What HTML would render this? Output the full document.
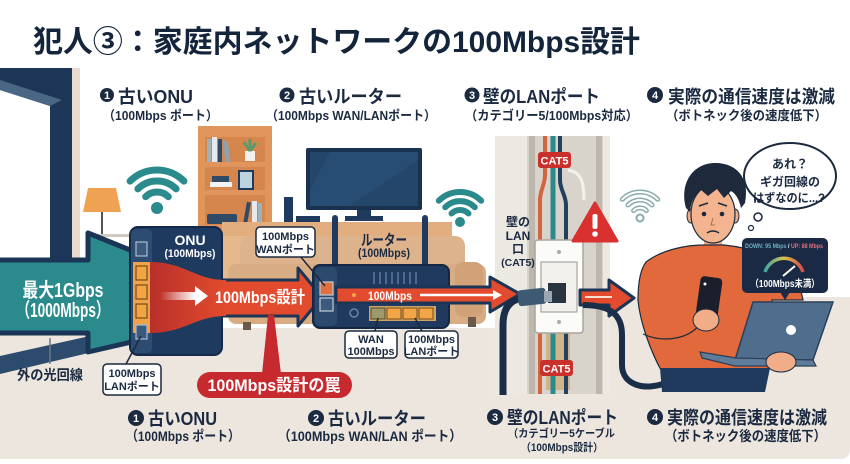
<!DOCTYPE html>
<html><head><meta charset="utf-8">
<style>
html,body{margin:0;padding:0;background:#fff;}
svg{display:block;}
text{font-family:"Liberation Sans","Noto Sans CJK JP",sans-serif;font-weight:700;}
</style></head><body>
<svg width="850" height="464" viewBox="0 0 850 464" xmlns="http://www.w3.org/2000/svg">
<defs>
<linearGradient id="fun" x1="0" x2="1" y1="0" y2="0">
<stop offset="0" stop-color="#b8302a"/><stop offset="1" stop-color="#e24b2d"/>
</linearGradient>
<linearGradient id="wfade" x1="0" x2="1"><stop offset="0" stop-color="#fff" stop-opacity="0"/><stop offset="1" stop-color="#fff"/></linearGradient>
<linearGradient id="gauge" x1="0" x2="1"><stop offset="0" stop-color="#3fa7a0"/><stop offset="0.5" stop-color="#d8c04a"/><stop offset="1" stop-color="#d84a4a"/></linearGradient>
</defs>
<rect width="850" height="464" fill="#fff"/>

<!-- floor -->
<path d="M0,328 L610,328 L610,297 L850,297 L850,449 Q850,459 840,459 L0,459 Z" fill="#ece6df"/>

<!-- door frame -->
<polygon points="0,68 72,68 72,262 50,262 50,106 0,90" fill="#1d3557"/>
<polygon points="0,80 62,100 50,106 0,90" fill="#4a6685"/>
<rect x="72" y="68" width="8" height="192" fill="#eadbd0"/>

<!-- lamp -->
<polygon points="88,188 116,188 121,212 83,212" fill="#f0a253"/>
<line x1="102" y1="212" x2="102" y2="236" stroke="#555" stroke-width="2"/>
<rect x="94" y="234" width="40" height="3" fill="#cfcac4"/>

<!-- bookshelf -->
<rect x="198" y="126" width="74" height="104" fill="#e0955c"/>
<rect x="205" y="137" width="60" height="25" fill="#d4864c"/>
<rect x="205" y="167" width="60" height="23" fill="#d4864c"/>
<rect x="205" y="195" width="60" height="30" fill="#d4864c"/>
<rect x="207" y="139" width="4" height="23" fill="#9fb0bd"/>
<rect x="212" y="137" width="5" height="25" fill="#e6e8ea"/>
<rect x="218" y="139" width="4" height="23" fill="#2f4a66"/>
<rect x="224" y="141" width="5" height="21" fill="#8fa0ae" transform="rotate(-8 226 151)"/>
<rect x="245" y="151" width="10" height="10" fill="#f4f1ec"/>
<path d="M250,151 L244,142 M250,151 L250,139 M250,151 L256,143" stroke="#5c9a6c" stroke-width="3"/>
<rect x="210" y="182" width="22" height="5" fill="#f3f3f3"/>
<rect x="212" y="176" width="17" height="6" fill="#2f4a66"/>
<rect x="239" y="171" width="14" height="18" fill="#bcd4e0" stroke="#1f3a5c" stroke-width="2"/>
<rect x="207" y="214" width="30" height="10" rx="2" fill="#2f4a66"/>
<rect x="245" y="202" width="4" height="22" fill="#2f4a66" transform="rotate(10 247 213)"/>
<rect x="252" y="201" width="5" height="23" fill="#e6e8ea"/>
<rect x="258" y="203" width="4" height="21" fill="#9fb0bd"/>

<!-- cabinet -->
<rect x="222" y="222" width="230" height="14" fill="#e2ae80"/>
<rect x="222" y="236" width="40" height="50" fill="#e6b98c"/>

<!-- TV -->
<rect x="357" y="209" width="14" height="9" fill="#1f3a5c"/>
<rect x="345" y="216" width="38" height="5" fill="#1f3a5c"/>
<rect x="306" y="148" width="116" height="62" rx="2" fill="#1a3150"/>
<rect x="310" y="152" width="108" height="54" fill="#24466b"/>
<polygon points="330,152 418,152 418,160 350,206 310,206 310,190" fill="#2b5077" opacity="0.7"/>
<rect x="284" y="197" width="9" height="25" fill="#1f3a5c"/>
<rect x="296" y="216" width="24" height="6" fill="#1f3a5c"/>

<!-- sofa -->
<rect x="240" y="236" width="225" height="40" rx="10" fill="#dcb38c"/>
<rect x="228" y="264" width="258" height="60" rx="8" fill="#d9ad84"/>
<rect x="455" y="262" width="28" height="55" rx="8" fill="#d1a278"/>
<rect x="243" y="322" width="8" height="8" fill="#6b5a4a"/>
<rect x="468" y="317" width="8" height="10" fill="#6b5a4a"/>

<!-- wifi 1 -->
<g fill="none" stroke="#2a8a8c" stroke-width="7" stroke-linecap="round">
<path d="M145.7,196.7 A16,16 0 0 1 168.3,196.7"/>
<path d="M137.9,188.9 A27,27 0 0 1 176.1,188.9"/>
<path d="M130.1,181.1 A38,38 0 0 1 183.9,181.1"/>
</g>
<circle cx="157" cy="208" r="6" fill="#2a8a8c"/>
<!-- wifi 2 -->
<g fill="none" stroke="#2a8a8c" stroke-width="6" stroke-linecap="round">
<path d="M451.5,213.5 A12,12 0 0 1 468.5,213.5"/>
<path d="M445.2,207.2 A21,21 0 0 1 474.8,207.2"/>
<path d="M438.8,200.8 A30,30 0 0 1 481.2,200.8"/>
</g>
<circle cx="460" cy="222" r="5" fill="#2a8a8c"/>
<!-- wifi 3 -->
<g fill="none" stroke-linecap="round">
<g stroke="#8aacac" stroke-width="5">
<path d="M633.6,210.6 A9,9 0 0 1 646.4,210.6"/>
<path d="M628,205 A17,17 0 0 1 652,205"/>
<path d="M622.3,199.3 A25,25 0 0 1 657.7,199.3"/>
</g>
<g stroke="#fff" stroke-width="2">
<path d="M633.6,210.6 A9,9 0 0 1 646.4,210.6"/>
<path d="M628,205 A17,17 0 0 1 652,205"/>
<path d="M622.3,199.3 A25,25 0 0 1 657.7,199.3"/>
</g>
</g>
<circle cx="640" cy="218" r="3.5" fill="#fff" stroke="#8aacac" stroke-width="2"/>

<!-- wall panel -->
<rect x="495" y="136" width="115" height="258" fill="#ece8e2"/>
<rect x="527" y="136" width="76" height="258" fill="#d8d3cb"/>
<rect x="529" y="136" width="6" height="258" fill="#bdb7ae"/>
<rect x="596" y="136" width="6" height="258" fill="#bdb7ae"/>
<rect x="546" y="318" width="24" height="72" fill="#d2b48c"/>
<path d="M545,136 L545,175 C545,185 540,190 540,200 L540,394" stroke="#d0653f" stroke-width="4" fill="none"/>
<path d="M553,136 L553,394" stroke="#2a8a8c" stroke-width="5" fill="none"/>
<path d="M560,136 L560,180 C560,190 566,195 566,205 L566,394" stroke="#23405f" stroke-width="4" fill="none"/>
<path d="M568,170 C580,172 584,180 584,200" stroke="#f4f1ec" stroke-width="3" fill="none"/>
<rect x="538" y="152" width="33" height="16" rx="3" fill="#c9302c"/>
<text x="554.5" y="164.5" font-size="11" fill="#fff" text-anchor="middle">CAT5</text>
<rect x="540" y="360" width="33" height="16" rx="3" fill="#c9302c"/>
<text x="556.5" y="372.5" font-size="11" fill="#fff" text-anchor="middle">CAT5</text>
<rect x="535" y="240" width="48" height="93" rx="3" fill="#fbfbfa" stroke="#aaa49c" stroke-width="1.5"/>
<rect x="541" y="262" width="36" height="50" fill="#f2f0ec" stroke="#9a958e" stroke-width="1"/>
<rect x="548" y="283" width="18" height="20" fill="#2a3440"/>
<circle cx="559" cy="252" r="2" fill="#aaa"/>
<circle cx="559" cy="322" r="2" fill="#aaa"/>
<path d="M595,203 L617,241 L573,241 Z" fill="#d93030" stroke="#d93030" stroke-width="3" stroke-linejoin="round"/>
<rect x="592.5" y="214" width="5" height="15" rx="2" fill="#fff"/>
<circle cx="595" cy="234" r="2.8" fill="#fff"/>
<text x="518" y="226" font-size="12" fill="#1b2a40" text-anchor="middle">壁の</text>
<text x="518" y="240" font-size="12" fill="#1b2a40" text-anchor="middle">LAN</text>
<text x="518" y="253" font-size="12" fill="#1b2a40" text-anchor="middle">口</text>
<text x="518" y="266" font-size="10.5" fill="#1b2a40" text-anchor="middle">(CAT5)</text>

<!-- outside cable -->
<polygon points="0,356 135,326 135,342 0,374" fill="#2d4b6d"/>

<!-- teal arrow -->
<path d="M0,260 L88,260 L88,233 L140,254 L140,340 L88,352 L88,333 L0,333" fill="#2a8a8c" stroke="#1b3556" stroke-width="5" stroke-linejoin="round"/>
<text x="63" y="297" font-size="20" fill="#fff" text-anchor="middle" textLength="81" lengthAdjust="spacingAndGlyphs">最大1Gbps</text>
<text x="63" y="317" font-size="20" fill="#fff" text-anchor="middle" textLength="93" lengthAdjust="spacingAndGlyphs">（1000Mbps）</text>
<line x1="50" y1="338" x2="50" y2="364" stroke="#6b7a8a" stroke-width="1.5"/>
<text x="17" y="380" font-size="14" fill="#1b2a40" textLength="66" lengthAdjust="spacingAndGlyphs">外の光回線</text>

<!-- red arrow 1 -->
<path d="M215,280 L298,280 L298,268 L322,297 L298,326 L298,316 L215,316 Z" fill="#e24b2d" stroke="#1b3556" stroke-width="3" stroke-linejoin="round"/>

<!-- ONU -->
<rect x="130" y="227" width="92" height="128" rx="8" fill="#1e3a5f" stroke="#15294a" stroke-width="2"/>
<rect x="131" y="229" width="21" height="124" rx="5" fill="#2c4c72"/>
<path d="M150,262 C185,262 195,280 226,280 L226,316 C195,316 185,333 150,333 Z" fill="url(#fun)"/>
<rect x="133" y="262" width="17" height="71" fill="#f0a24a"/>
<g stroke-width="1.2">
<rect x="136" y="242" width="11" height="14" fill="#3b5a7e" stroke="#a9bccf"/>
<rect x="136" y="266" width="11" height="14" fill="#f2a545" stroke="#7a4a1a"/>
<rect x="136" y="285" width="11" height="14" fill="#f2a545" stroke="#7a4a1a"/>
<rect x="136" y="304" width="11" height="14" fill="#f2a545" stroke="#7a4a1a"/>
<rect x="136" y="325" width="11" height="14" fill="#3b5a7e" stroke="#a9bccf"/>
</g>
<text x="190" y="245" font-size="14" fill="#fff" text-anchor="middle">ONU</text>
<text x="190" y="257" font-size="11" fill="#fff" text-anchor="middle" textLength="51" lengthAdjust="spacingAndGlyphs">(100Mbps)</text>
<rect x="160" y="292" width="36" height="8" fill="url(#wfade)"/>
<polygon points="195,286 208,296 195,306" fill="#fff"/>
<text x="215" y="303" font-size="17" fill="#fff" textLength="90" lengthAdjust="spacingAndGlyphs">100Mbps設計</text>

<!-- router -->
<rect x="332" y="215" width="6" height="55" rx="3" fill="#1f3a5e"/>
<rect x="422" y="215" width="6" height="55" rx="3" fill="#1f3a5e"/>
<rect x="313" y="265" width="136" height="63" rx="7" fill="#1f3a5e" stroke="#142844" stroke-width="2"/>
<rect x="315" y="267" width="22" height="59" rx="5" fill="#2b4a6e"/>
<g stroke="#4a6a8e" stroke-width="2">
<line x1="374" y1="272" x2="374" y2="284"/><line x1="380" y1="272" x2="380" y2="284"/><line x1="386" y1="272" x2="386" y2="284"/><line x1="392" y1="272" x2="392" y2="284"/><line x1="398" y1="272" x2="398" y2="284"/><line x1="404" y1="272" x2="404" y2="284"/><line x1="410" y1="272" x2="410" y2="284"/><line x1="416" y1="272" x2="416" y2="284"/>
</g>
<rect x="320" y="282" width="13" height="13" fill="#e07040" stroke="#c0ccd8" stroke-width="1.2"/>
<rect x="320" y="298" width="13" height="13" fill="#3b5a7e" stroke="#c0ccd8" stroke-width="1.2"/>
<rect x="369" y="306" width="67" height="15" fill="#cfa564"/>
<rect x="371" y="308" width="14" height="11" fill="#9a9a6a" stroke="#5a4a2a"/>
<rect x="387" y="308" width="14" height="11" fill="#f2a545" stroke="#7a4a1a"/>
<rect x="403" y="308" width="14" height="11" fill="#f2a545" stroke="#7a4a1a"/>
<rect x="419" y="308" width="14" height="11" fill="#f2a545" stroke="#7a4a1a"/>
<circle cx="354" cy="313" r="4" fill="none" stroke="#6a86a6" stroke-width="1.5"/>
<path d="M336,287 L490,287 L490,277 L520,294 L490,312 L490,303 L336,303 Z" fill="#e24b2d" stroke="#1b3556" stroke-width="3" stroke-linejoin="round"/>
<circle cx="354" cy="295" r="2" fill="#f2a545"/>
<text x="368" y="300" font-size="12" fill="#fff" textLength="44" lengthAdjust="spacingAndGlyphs">100Mbps</text>
<line x1="420" y1="295" x2="495" y2="295" stroke="#fff" stroke-width="2.5"/>
<polygon points="493,290 502,295 493,300" fill="#fff"/>
<text x="384" y="245" font-size="15" fill="#1b2a40" text-anchor="middle" textLength="46" lengthAdjust="spacingAndGlyphs">ルーター</text>
<text x="384" y="257" font-size="12" fill="#1b2a40" text-anchor="middle" textLength="52" lengthAdjust="spacingAndGlyphs">(100Mbps)</text>

<!-- right red arrow -->
<path d="M580,290 L609,290 L609,280 L634,298 L609,316 L609,305 L580,305 Z" fill="#e24b2d" stroke="#1b3556" stroke-width="3" stroke-linejoin="round"/>
<line x1="585" y1="297" x2="612" y2="297" stroke="#fbe0d0" stroke-width="2"/>

<!-- cables -->
<path d="M503,395 L503,325 C503,308 510,300 522,298" fill="none" stroke="#1b2e48" stroke-width="7"/>
<rect x="518" y="289" width="28" height="16" rx="3" fill="#3e5a73" transform="rotate(-6 532 297)"/>
<rect x="544" y="291" width="8" height="11" fill="#9aa6b2"/>
<path d="M583,305 C612,305 622,316 622,335 L622,365 C622,385 645,392 668,382" fill="none" stroke="#1b2e48" stroke-width="6"/>

<!-- person -->
<rect x="704" y="236" width="18" height="14" fill="#f1ad88"/>
<path d="M646,262 C663,249 688,245 704,245 L724,245 C752,248 787,258 799,282 L803,300 L772,300 L768,370 L662,372 C650,350 640,322 638,300 C638,285 640,270 646,262 Z" fill="#e2693c" stroke="#1b2a3e" stroke-width="1.2"/>
<path d="M643,334 C665,344 690,338 700,324" fill="none" stroke="#1b2a3e" stroke-width="1.2"/>
<path d="M660,368 L770,368 L765,392 L662,392 Z" fill="#1f3a5c"/>
<ellipse cx="691" cy="216" rx="4" ry="7" fill="#f1ad88" stroke="#1b2a3e" stroke-width="1"/>
<ellipse cx="735" cy="216" rx="4" ry="7" fill="#f1ad88" stroke="#1b2a3e" stroke-width="1"/>
<ellipse cx="713" cy="214" rx="22" ry="29" fill="#f3b48f" stroke="#1b2a3e" stroke-width="1.2"/>
<path d="M686,208 C679,182 694,163 715,163 C737,163 750,178 745,203 L741,208 C739,199 736,194 731,191 L724,198 L717,189 L708,196 L701,190 C695,195 691,201 690,212 Z" fill="#1e2a3b"/>
<path d="M699,206 L708,203 M718,203 L727,206" stroke="#1e2a3b" stroke-width="1.6" fill="none"/>
<circle cx="704" cy="214" r="2.3" fill="#1e2a3b"/>
<circle cx="722" cy="214" r="2.3" fill="#1e2a3b"/>
<path d="M713,218 L711,225 L715,225" stroke="#b56a4a" stroke-width="1" fill="none"/>
<path d="M707,233 Q713,229 719,233" stroke="#1e2a3b" stroke-width="1.4" fill="none"/>
<rect x="698" y="277" width="22" height="42" rx="4" fill="#1a1f2b" transform="rotate(8 709 298)"/>
<circle cx="705" cy="284" r="1.5" fill="#fff"/>
<ellipse cx="706" cy="320" rx="13" ry="11" fill="#f1ad88" stroke="#1b2a3e" stroke-width="1"/>
<!-- laptop -->
<polygon points="753,302 833,302 813,360 735,360" fill="#4f6d8c" stroke="#2b3f58" stroke-width="1.5"/>
<polygon points="700,352 736,358 813,360 816,366 735,366 702,358" fill="#5f7c9a" stroke="#2b3f58" stroke-width="1.2"/>
<circle cx="791" cy="330" r="5" fill="#fff"/>
<ellipse cx="781" cy="362" rx="15" ry="10" fill="#f1ad88" stroke="#1b2a3e" stroke-width="1"/>

<!-- speed panel -->
<rect x="742" y="238" width="86" height="55" rx="5" fill="#1b2a44"/>
<polygon points="780,292 790,292 785,300" fill="#1b2a44"/>
<text x="745" y="248" font-size="6" textLength="78" lengthAdjust="spacingAndGlyphs"><tspan fill="#6ab0c0">DOWN: 95 Mbps</tspan><tspan fill="#fff"> / </tspan><tspan fill="#e07080">UP: 88 Mbps</tspan></text>
<path d="M765,272 A20,20 0 0 1 803,272" fill="none" stroke="url(#gauge)" stroke-width="3.5"/>
<line x1="783" y1="276" x2="795" y2="266" stroke="#fff" stroke-width="2"/>
<text x="785" y="287" font-size="10" fill="#fff" text-anchor="middle" textLength="69" lengthAdjust="spacingAndGlyphs">（100Mbps未満）</text>

<!-- speech bubble -->
<ellipse cx="790" cy="176" rx="46" ry="33" fill="#fff" stroke="#1b2a3e" stroke-width="2"/>
<circle cx="758" cy="217" r="4" fill="#fff" stroke="#1b2a3e" stroke-width="1.5"/>
<circle cx="751" cy="228" r="2.5" fill="#fff" stroke="#1b2a3e" stroke-width="1.2"/>
<text x="790" y="168" font-size="12" fill="#1b2a40" text-anchor="middle">あれ？</text>
<text x="790" y="186" font-size="12" fill="#1b2a40" text-anchor="middle">ギガ回線の</text>
<text x="789" y="202" font-size="12" fill="#1b2a40" text-anchor="middle" textLength="72" lengthAdjust="spacingAndGlyphs">はずなのに...?</text>

<!-- callouts -->
<g stroke="#1b2a3e" stroke-width="1.5">
<line x1="300" y1="256" x2="325" y2="286"/>
<line x1="126" y1="364" x2="141" y2="336"/>
<line x1="375" y1="331" x2="378" y2="318"/>
<line x1="422" y1="331" x2="415" y2="318"/>
</g>
<g fill="#fff" stroke="#1b2a3e" stroke-width="1.5">
<rect x="256" y="227" width="59" height="30" rx="4"/>
<rect x="103" y="364" width="58" height="31" rx="4"/>
<rect x="345" y="331" width="52" height="27" rx="4"/>
<rect x="405" y="331" width="53" height="27" rx="4"/>
</g>
<g font-size="11" fill="#1b2a40" text-anchor="middle">
<text x="285.5" y="240">100Mbps</text>
<text x="285.5" y="253">WANポート</text>
<text x="132" y="377">100Mbps</text>
<text x="132" y="390">LANポート</text>
<text x="371" y="343">WAN</text>
<text x="371" y="355">100Mbps</text>
<text x="431.5" y="343">100Mbps</text>
<text x="431.5" y="355">LANポート</text>
</g>

<!-- red pill -->
<polygon points="268,315 274,315 281,374 262,374" fill="#c62a2f"/>
<rect x="197" y="372" width="155" height="26" rx="13" fill="#c62a2f"/>
<text x="274" y="391" font-size="17" fill="#fff" text-anchor="middle" textLength="133" lengthAdjust="spacingAndGlyphs">100Mbps設計の罠</text>

<!-- title -->
<text x="33" y="52" font-size="30" fill="#13243b" textLength="607" lengthAdjust="spacingAndGlyphs">犯人③：家庭内ネットワークの100Mbps設計</text>

<!-- labels -->
<g fill="#1b2a40">
<circle cx="107" cy="95" r="7"/><circle cx="287" cy="95" r="7.5"/><circle cx="472" cy="95" r="7.5"/><circle cx="655" cy="95" r="8"/>
<circle cx="136" cy="418" r="8"/><circle cx="316" cy="418" r="8"/><circle cx="495" cy="417" r="8"/><circle cx="655" cy="417" r="8"/>
</g>
<g fill="#fff" font-size="11" text-anchor="middle">
<text x="107" y="99">1</text><text x="287" y="99">2</text><text x="472" y="99">3</text><text x="655" y="99">4</text>
<text x="136" y="422">1</text><text x="316" y="422">2</text><text x="495" y="421">3</text><text x="655" y="421">4</text>
</g>
<g fill="#1b2a40">
<text x="118" y="103" font-size="18" textLength="75" lengthAdjust="spacingAndGlyphs">古いONU</text>
<text x="103" y="120" font-size="13" textLength="115" lengthAdjust="spacingAndGlyphs">（100Mbps ポート）</text>
<text x="299" y="103" font-size="18" textLength="103" lengthAdjust="spacingAndGlyphs">古いルーター</text>
<text x="266" y="120" font-size="13" textLength="170" lengthAdjust="spacingAndGlyphs">（100Mbps WAN/LANポート）</text>
<text x="483" y="103" font-size="18" textLength="117" lengthAdjust="spacingAndGlyphs">壁のLANポート</text>
<text x="465" y="120" font-size="13" textLength="173" lengthAdjust="spacingAndGlyphs">（カテゴリー5/100Mbps対応）</text>
<text x="668" y="103" font-size="18" textLength="167" lengthAdjust="spacingAndGlyphs">実際の通信速度は激減</text>
<text x="666" y="120" font-size="13" textLength="161" lengthAdjust="spacingAndGlyphs">（ボトネック後の速度低下）</text>

<text x="148" y="425" font-size="18" textLength="69" lengthAdjust="spacingAndGlyphs">古いONU</text>
<text x="126" y="441" font-size="14" textLength="114" lengthAdjust="spacingAndGlyphs">（100Mbps ポート）</text>
<text x="328" y="425" font-size="18" textLength="98" lengthAdjust="spacingAndGlyphs">古いルーター</text>
<text x="278" y="441" font-size="14" textLength="184" lengthAdjust="spacingAndGlyphs">（100Mbps WAN/LAN ポート）</text>
<text x="507" y="424" font-size="18" textLength="111" lengthAdjust="spacingAndGlyphs">壁のLANポート</text>
<text x="508" y="437" font-size="11" textLength="107" lengthAdjust="spacingAndGlyphs">（カテゴリー5ケーブル</text>
<text x="521" y="451" font-size="11" textLength="82" lengthAdjust="spacingAndGlyphs">（100Mbps設計）</text>
<text x="667" y="424" font-size="18" textLength="160" lengthAdjust="spacingAndGlyphs">実際の通信速度は激減</text>
<text x="665" y="441" font-size="14" textLength="161" lengthAdjust="spacingAndGlyphs">（ボトネック後の速度低下）</text>
</g>
</svg>
</body></html>
